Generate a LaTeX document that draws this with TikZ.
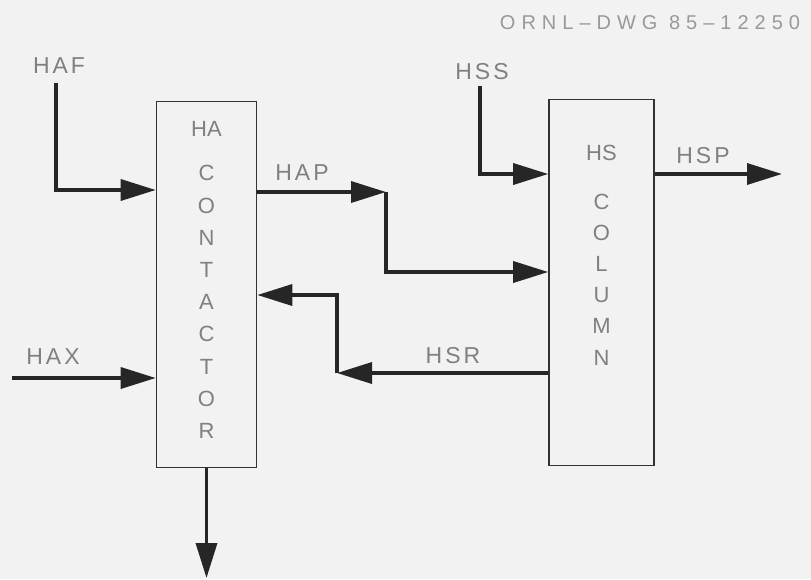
\documentclass[tikz,border=0pt]{standalone}
\usepackage{fontspec}
\setmainfont{Liberation Sans}
\usetikzlibrary{arrows.meta}

\begin{document}
\begin{tikzpicture}[x=1pt, y=-1pt,
    flow/.style={line width=3.5pt, draw=black!85, -{Triangle[length=35pt, width=21pt]}},
    unit/.style={draw=black!80, line width=1.6pt, minimum width=100pt, minimum height=366pt, inner sep=0pt},
    lbl/.style={text=black!50, font=\fontsize{23}{23}\selectfont\addfontfeatures{LetterSpace=13}},
    stack/.style={lbl, align=center, anchor=north, font=\fontsize{22}{32.2}\selectfont},
]
    % Bakgrunn
    \fill[black!5] (0,0) rectangle (811,579);
    \useasboundingbox (0,0) rectangle (811,579);

    % Tittel
    \node[text=black!40, font=\fontsize{20}{20}\selectfont\addfontfeatures{LetterSpace=30}] (dwg) at (650,23) {ORNL–DWG 85–12250};

    % Enheter
    \node[unit] (ha) at (206.5,284.5) {};
    \node[unit, minimum width=105pt] (hs) at (601.5,282.5) {};
    \node[stack] (hatext) at (206.5,118) {HA\\[12pt]C\\O\\N\\T\\A\\C\\T\\O\\R};
    \node[stack, font=\fontsize{22}{31.2}\selectfont] (hstext) at (601.5,142) {HS\\[17pt]C\\O\\L\\U\\M\\N};

    % Strømnavn
    \node[lbl] (haf) at (59,66) {HAF};
    \node[lbl] (hax) at (53,357) {HAX};
    \node[lbl] (hap) at (302,173) {HAP};
    \node[lbl] (hss) at (482,72) {HSS};
    \node[lbl] (hsp) at (703,156) {HSP};
    \node[lbl] (hsr) at (453,356) {HSR};

    % Hjelpepunkter
    \coordinate (haftop) at (56,83);
    \coordinate (hafturn) at (56,190);
    \coordinate (haxin) at (12,378);
    \coordinate (hapmid) at (386,192);
    \coordinate (hapin) at (386,272);
    \coordinate (hsstop) at (480,86);
    \coordinate (hssturn) at (480,174);
    \coordinate (hspout) at (782,174);
    \coordinate (hsrmid) at (337,373);
    \coordinate (hsrin) at (337,295);
    \coordinate (haout) at (206.5,578);

    % Strømmer
    \draw[flow] (haftop) |- (ha.west |- hafturn);
    \draw[flow] (haxin) -- (ha.west |- haxin);
    \draw[flow] (ha.east |- hapmid) -- (hapmid);
    \draw[flow] (hapmid) |- (hs.west |- hapin);
    \draw[flow] (hsstop) |- (hs.west |- hssturn);
    \draw[flow] (hs.east |- hspout) -- (hspout);
    \draw[flow] (hs.west |- hsrmid) -- (hsrmid);
    \draw[flow] (hsrmid) |- (ha.east |- hsrin);
    \draw[flow] (ha.south) -- (haout);
\end{tikzpicture}
\end{document}
